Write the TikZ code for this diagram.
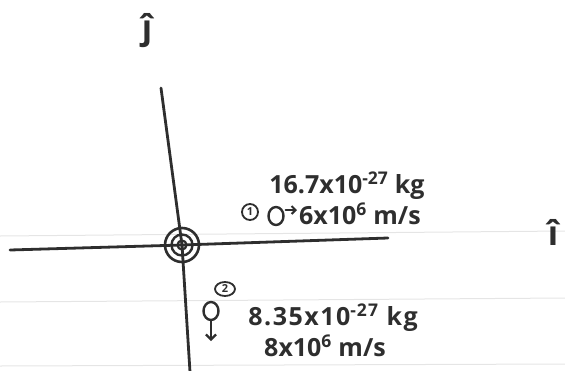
\documentclass[tikz,border=0pt]{standalone}
\usepackage{fontspec}
\setmainfont{Open Sans}
\usetikzlibrary{arrows.meta,shapes.geometric}
\definecolor{ink}{HTML}{2E2E2E}
\begin{document}
\begin{tikzpicture}[x=1pt,y=-1pt,
  pen/.style={draw=ink,line width=2.8pt,line cap=round},
  note/.style={text=ink,font=\fontsize{25}{25}\selectfont\bfseries,inner sep=0pt},
  ruled/.style={draw=black!10,line width=1pt},
  particle/.style={ellipse,draw=ink,line width=2.4pt,minimum width=15pt,minimum height=18pt,inner sep=0pt},
  tag/.style={circle,draw=ink,line width=1.8pt,minimum size=16pt,inner sep=0pt,text=ink,font=\fontsize{11}{11}\selectfont\bfseries}]
\useasboundingbox (0,0) rectangle (565,370);
% notebook lines
\draw[ruled] (0,236) -- (565,231);
\draw[ruled] (0,302) -- (565,298);
\draw[ruled] (0,366) -- (565,364);
% axes
\coordinate (o) at (182,245);
\coordinate (ytop) at (161,88);
\coordinate (ybot) at (190,372);
\coordinate (xl) at (10,250);
\coordinate (xr) at (388,238);
\draw[pen] (ytop) -- (o) -- (ybot);
\draw[pen] (xl) -- (o) -- (xr);
% origin target
\node[circle,draw=ink,line width=2.6pt,minimum size=34pt,inner sep=0pt] (t1) at (o) {};
\node[circle,draw=ink,line width=2.4pt,minimum size=21pt,inner sep=0pt] (t2) at (o) {};
\node[circle,draw=ink,line width=2.2pt,minimum size=9pt,inner sep=0pt] (t3) at (o) {};
% unit vectors
\node[text=ink,font=\fontsize{34}{34}\selectfont\bfseries] (j) at (147,31) {ĵ};
\node[text=ink,font=\fontsize{34}{34}\selectfont\bfseries] (i) at (553,232) {î};
% particle 1
\node[tag] (n1) at (250,212) {1};
\node[particle] (p1) at (276,216) {};
\coordinate (a1) at (297,210);
\draw[pen,line width=2pt,-{Straight Barb[length=4pt]}] (p1.east) ++(1,-6) -- (a1);
\node[note] (m1) at (347,186) {16.7x10\textsuperscript{-27} kg};
\node[note,anchor=west] (v1) at (299,214) {6x10\textsuperscript{6} m/s};
% particle 2
\node[ellipse,draw=ink,line width=1.8pt,minimum width=20pt,minimum height=14pt,inner sep=0pt,text=ink,font=\fontsize{11}{11}\selectfont\bfseries] (n2) at (225,289) {2};
\node[particle] (p2) at (211,311) {};
\coordinate (a2) at (211,341);
\draw[pen,line width=2.2pt,-{Straight Barb[length=5pt]}] (p2.south) -- (a2);
\node[note,font=\fontsize{25}{25}\selectfont\bfseries\addfontfeature{LetterSpace=6}] (m2) at (333,318) {8.35x10\textsuperscript{-27} kg};
\node[note] (v2) at (325,346) {8x10\textsuperscript{6} m/s};
\end{tikzpicture}
\end{document}
